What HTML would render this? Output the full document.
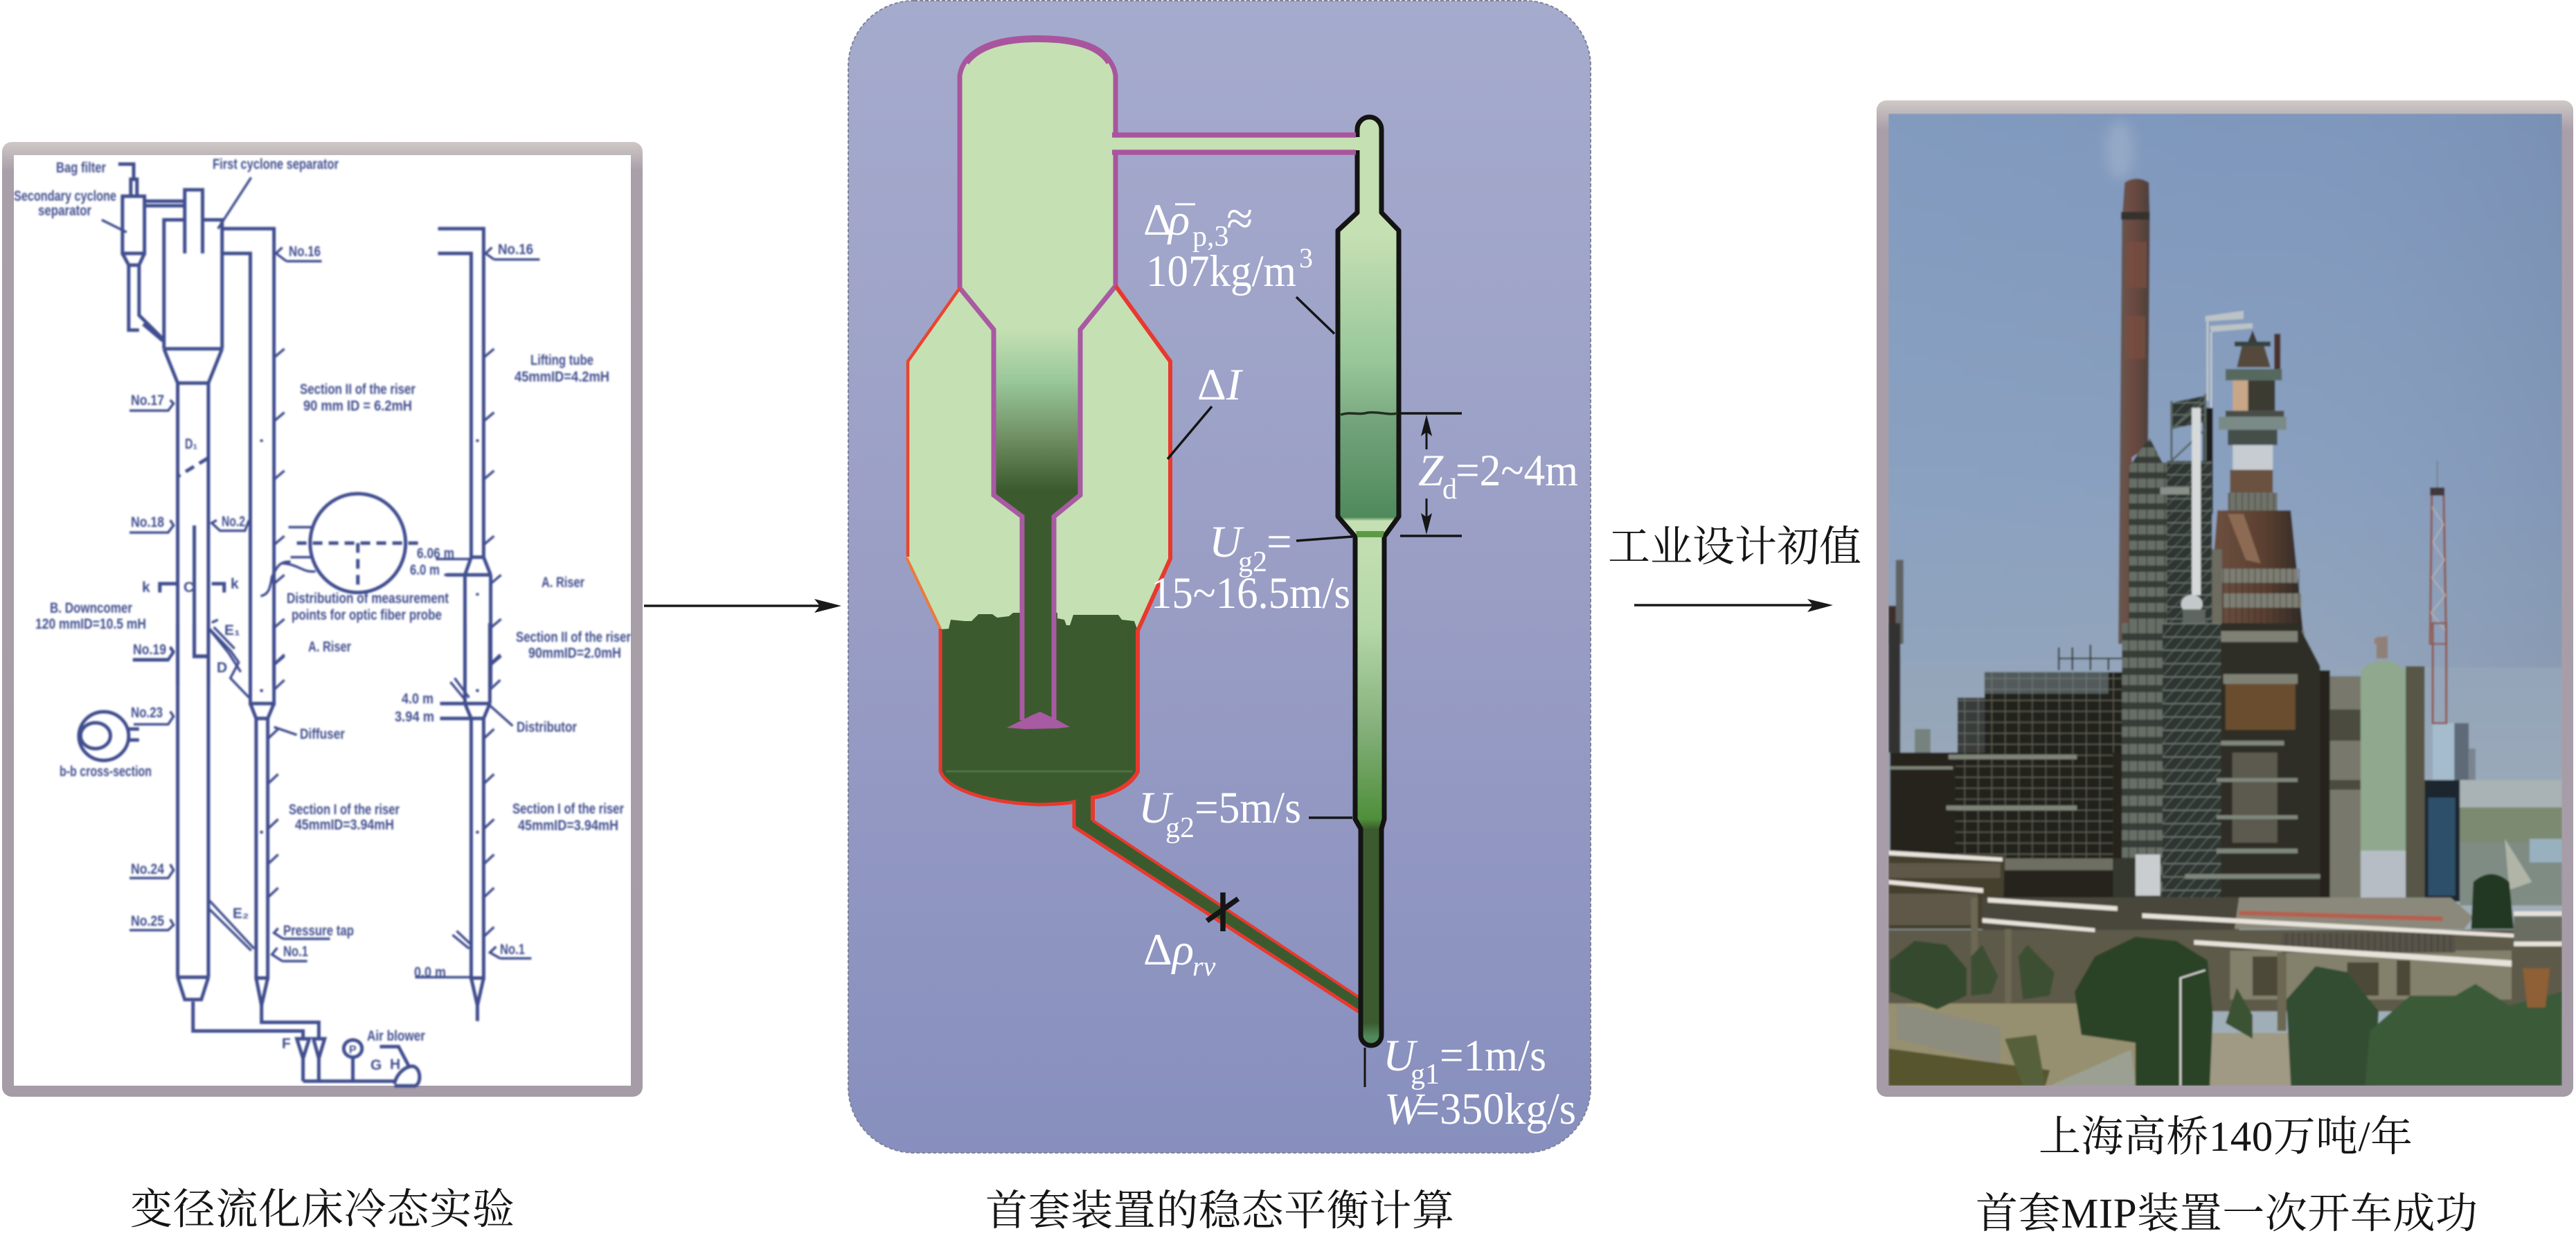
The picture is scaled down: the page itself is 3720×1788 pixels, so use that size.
<!DOCTYPE html>
<html><head><meta charset="utf-8">
<style>
html,body{margin:0;padding:0;background:#fff;width:3720px;height:1788px;overflow:hidden}
svg{display:block}
.n *{vector-effect:non-scaling-stroke}
.l{fill:none;stroke:#3f4e8e;stroke-width:5;stroke-linejoin:miter}
.s{fill:none;stroke:#3f4e8e;stroke-width:3.5}
.b text{font:bold 21px "Liberation Sans",sans-serif;fill:#3f4e8e;stroke:none}
.c{font-family:"Liberation Serif","Noto Serif CJK SC",serif;font-size:61px;fill:#151515}
.w text{font-family:"Liberation Serif",serif;font-size:65px;fill:#fff}
.i{font-style:italic}
</style></head><body>
<svg width="3720" height="1788" viewBox="0 0 3720 1788" xmlns="http://www.w3.org/2000/svg">
<defs>
<linearGradient id="pg" x1="0" y1="0" x2="0" y2="1"><stop offset="0" stop-color="#a5abcd"/><stop offset=".5" stop-color="#9a9ec5"/><stop offset="1" stop-color="#878fbe"/></linearGradient>
<linearGradient id="fg" x1="0" y1="0" x2="0" y2="1"><stop offset="0" stop-color="#cfc9c6"/><stop offset=".03" stop-color="#a99fa9"/><stop offset="1" stop-color="#a69ca8"/></linearGradient>
<linearGradient id="sp" gradientUnits="userSpaceOnUse" x1="0" y1="476" x2="0" y2="746"><stop offset="0" stop-color="#c5e0b3"/><stop offset=".28" stop-color="#98c79a"/><stop offset=".58" stop-color="#6f8f63"/><stop offset=".86" stop-color="#3b5b2f"/><stop offset="1" stop-color="#3b5b2f"/></linearGradient>
<linearGradient id="rs" gradientUnits="userSpaceOnUse" x1="0" y1="166" x2="0" y2="1511">
<stop offset="0" stop-color="#c5e0b3"/><stop offset=".13" stop-color="#c5e0b3"/><stop offset=".263" stop-color="#98c79a"/><stop offset=".318" stop-color="#7fae84"/><stop offset=".322" stop-color="#76a57e"/><stop offset=".432" stop-color="#4f8a5b"/><stop offset=".436" stop-color="#c5e0b3"/><stop offset=".55" stop-color="#b5d8a8"/><stop offset=".657" stop-color="#85b07c"/><stop offset=".756" stop-color="#4f8f3a"/><stop offset=".767" stop-color="#3b5b2f"/><stop offset=".975" stop-color="#3b5b2f"/><stop offset=".99" stop-color="#4f8a5b"/></linearGradient>
<linearGradient id="sky" x1="0" y1="0" x2="0" y2="1"><stop offset="0" stop-color="#7e97bc"/><stop offset=".38" stop-color="#8aa0bf"/><stop offset=".62" stop-color="#96a6b9"/><stop offset=".8" stop-color="#a0aeb8"/></linearGradient>
<linearGradient id="skr" x1="0" y1="0" x2="1" y2="0"><stop offset="0" stop-color="#8aa4c6" stop-opacity=".25"/><stop offset=".5" stop-color="#8aa4c6" stop-opacity="0"/><stop offset="1" stop-color="#66789a" stop-opacity=".22"/></linearGradient>
<linearGradient id="chim" x1="0" y1="0" x2="1" y2="0"><stop offset="0" stop-color="#66584f"/><stop offset=".45" stop-color="#6d4a40"/><stop offset="1" stop-color="#4c403b"/></linearGradient>
<linearGradient id="bod" x1="0" y1="0" x2="1" y2="0"><stop offset="0" stop-color="#6e5242"/><stop offset=".6" stop-color="#5a3f30"/><stop offset="1" stop-color="#2f2a26"/></linearGradient>
<filter id="bl" x="-2%" y="-2%" width="104%" height="104%"><feGaussianBlur stdDeviation="1.4"/></filter>
<filter id="bf" x="-2%" y="-2%" width="104%" height="104%"><feGaussianBlur stdDeviation="1.3"/></filter>
<filter id="sm" x="-50%" y="-50%" width="200%" height="200%"><feGaussianBlur stdDeviation="14"/></filter>
<clipPath id="pc"><rect x="2727" y="164" width="973" height="1404"/></clipPath>
<pattern id="gd" width="30" height="28" patternUnits="userSpaceOnUse"><rect width="30" height="28" fill="#22211c"/><rect x="0" y="0" width="2" height="28" fill="#5f5f55"/><rect y="0" width="30" height="2" fill="#6b6b5f"/></pattern>
<pattern id="gl" width="26" height="34" patternUnits="userSpaceOnUse"><rect width="26" height="34" fill="#2f3631"/><path d="M0 34L26 0" stroke="#6c7870" stroke-width="1.5"/><rect width="26" height="2.5" fill="#77837a"/></pattern>
<pattern id="bd" width="20" height="44" patternUnits="userSpaceOnUse"><rect width="20" height="44" fill="#666e66"/><rect y="26" width="20" height="18" fill="#383d38"/><rect x="14" width="2" height="44" fill="#33362f"/></pattern>
<pattern id="rl" width="14" height="60" patternUnits="userSpaceOnUse"><rect width="14" height="60" fill="none"/><rect width="2" height="60" fill="#2b2622" opacity=".55"/></pattern>
</defs>
<rect width="3720" height="1788" fill="#fff"/>

<!-- LEFT PANEL -->
<rect x="3" y="205" width="925" height="1379" rx="14" fill="url(#fg)"/>
<rect x="20" y="224" width="891" height="1344" fill="#fff"/>
<g filter="url(#bl)">
<g class="n" transform="translate(0,190) scale(.5995,.5102)">
<path class="l" d="M295 183H348V345H295ZM295 345L310 378H335L348 345M315 183V135H330V183M322 135V92H285M310 378V562H335M335 378V520L395 590M345 545L392 592M350 197H445M350 210H445M445 345V165H488V345"/>
<path class="l" d="M395 615V250H445M488 250H535V615M395 615H535M395 615L428 712H502L535 615M428 712V1568M502 712V1568"/>
<path class="l" d="M535 275H660V1568M535 345H603V1568"/>
<path class="l" d="M468 1115V1485H502M385 1305V1280H428M510 1280H540V1305"/>
<path class="l" d="M1055 275H1165V1205M1055 345H1135V1205M1135 1205H1165M1135 1205L1120 1255M1165 1205L1182 1255M1075 1255H1182M1120 1255V1568M1182 1255V1568"/>
<ellipse class="l" cx="862" cy="1165" rx="115" ry="140"/>
<path class="l" stroke-dasharray="14 9" d="M715 1165H1015M862 1165V1300M500 925L430 975"/>
<path class="s" d="M695 1120H750M700 1205H750M700 1218C670 1215 665 1240 655 1260C650 1300 645 1310 628 1315M680 1222C720 1225 730 1250 760 1245M605 130L525 275M245 250L305 285"/>
<path class="s" d="M660 640L685 615M660 820L685 795M660 985L685 960M660 1170L685 1145M660 1280L685 1255M660 1405L685 1380M660 1510L685 1485M1165 640L1190 615M1165 820L1190 795M1165 985L1190 960M1165 1170L1190 1145M1182 1280L1207 1255M1182 1405L1207 1380M1182 1510L1207 1485"/>
<path class="s" d="M690 367H775M690 367L665 345L680 328M1190 362H1300M1190 362L1170 345L1185 328M312 790H405L418 770L410 760M312 1135H405L418 1115L410 1100M522 1100L510 1108L530 1130H590L600 1100M320 1497H405L418 1475L410 1462M1070 1255H1120M1050 1210H1135"/>
<path class="s" d="M510 1390L525 1382M505 1410L550 1475L580 1530"/>
<circle cx="630" cy="875" r="4" fill="#3f4e8e"/><circle cx="1150" cy="875" r="4" fill="#3f4e8e"/><circle cx="1150" cy="1310" r="4" fill="#3f4e8e"/>
</g>
<g class="n" transform="translate(0,900) scale(.5995,.5663)">
<path class="l" d="M428 0V903M502 0V903M428 903H502M428 903L445 960H485L502 903M465 965V1040H730V1060"/>
<path class="l" d="M468 0V85H502M603 0V205H660V0M603 205L617 243H645L660 205M617 243V905H645V243M617 905L630 975L645 905M630 975V1018H768V1060"/>
<path class="l" d="M715 1060H745L730 1110ZM755 1060H782L768 1110ZM730 1110V1168M768 1110V1168M730 1168H950"/>
<circle class="l" cx="850" cy="1085" r="22"/><path class="l" d="M850 1107V1168M915 1080H960L985 1130M950 1175C955 1150 975 1130 995 1130C1015 1135 1015 1175 1000 1180H950"/>
<path class="l" d="M1120 0V205M1180 0V205M1060 205H1180M1120 205L1135 243M1180 205L1165 243M1060 243H1165M1135 243V905H1165V243M1135 905L1150 975L1165 905M1150 975V1015"/>
<path class="s" d="M505 15L555 70L575 100L555 140L600 190M515 10L565 65M505 708L612 830M505 730L605 835M1085 150L1120 195M1095 140L1130 190M1090 795L1130 830M1100 785L1135 820M660 265L715 285M1180 210L1235 262"/>
<path class="s" d="M660 105L685 80M660 170L685 145M1180 105L1205 80M1180 170L1205 145M645 295L670 270M645 410L670 385M645 525L670 500M645 615L670 590M645 700L670 675M1165 295L1190 270M1165 410L1190 385M1165 525L1190 500M1165 615L1190 590M1165 700L1190 675M1165 800L1190 775"/>
<path class="s" d="M320 92H405L418 72L410 60M322 258H405L418 238L410 225M312 650H405L418 630L410 615M312 783H405L418 770L410 755M682 805H795M682 805L660 790L670 778M680 862H740M680 862L655 845L668 828M1205 855H1280M1205 855L1180 840L1195 825M1000 903H1135"/>
<ellipse class="l" cx="250" cy="288" rx="60" ry="62"/><ellipse class="l" cx="230" cy="287" rx="36" ry="33"/><path class="l" d="M310 270H335M310 298H335"/>
<circle cx="630" cy="172" r="4" fill="#3f4e8e"/><circle cx="1150" cy="172" r="4" fill="#3f4e8e"/><circle cx="630" cy="533" r="4" fill="#3f4e8e"/><circle cx="1150" cy="533" r="4" fill="#3f4e8e"/>
</g>
<g class="b">
<text x="81" y="249" textLength="72" lengthAdjust="spacingAndGlyphs">Bag filter</text>
<text x="307" y="244" textLength="182" lengthAdjust="spacingAndGlyphs">First cyclone separator</text>
<text x="20" y="290" textLength="148" lengthAdjust="spacingAndGlyphs">Secondary cyclone</text>
<text x="55" y="311" textLength="77" lengthAdjust="spacingAndGlyphs">separator</text>
<text x="417" y="370" textLength="46" lengthAdjust="spacingAndGlyphs">No.16</text>
<text x="719" y="367" textLength="51" lengthAdjust="spacingAndGlyphs">No.16</text>
<text x="766" y="527" textLength="91" lengthAdjust="spacingAndGlyphs">Lifting tube</text>
<text x="743" y="551" textLength="137" lengthAdjust="spacingAndGlyphs">45mmID=4.2mH</text>
<text x="433" y="569" textLength="167" lengthAdjust="spacingAndGlyphs">Section II of the riser</text>
<text x="438" y="593" textLength="157" lengthAdjust="spacingAndGlyphs">90 mm ID = 6.2mH</text>
<text x="189" y="585" textLength="48" lengthAdjust="spacingAndGlyphs">No.17</text>
<text x="267" y="648" textLength="18" lengthAdjust="spacingAndGlyphs">D₁</text>
<text x="189" y="761" textLength="48" lengthAdjust="spacingAndGlyphs">No.18</text>
<text x="320" y="760" textLength="34" lengthAdjust="spacingAndGlyphs">No.2</text>
<text x="205" y="855">k</text><text x="333" y="850">k</text><text x="265" y="855">C</text>
<text x="602" y="806" textLength="54" lengthAdjust="spacingAndGlyphs">6.06 m</text>
<text x="592" y="830" textLength="43" lengthAdjust="spacingAndGlyphs">6.0 m</text>
<text x="782" y="848" textLength="62" lengthAdjust="spacingAndGlyphs">A. Riser</text>
<text x="414" y="871" textLength="234" lengthAdjust="spacingAndGlyphs">Distribution of measurement</text>
<text x="421" y="895" textLength="217" lengthAdjust="spacingAndGlyphs">points for optic fiber probe</text>
<text x="72" y="885" textLength="119" lengthAdjust="spacingAndGlyphs">B. Downcomer</text>
<text x="51" y="908" textLength="160" lengthAdjust="spacingAndGlyphs">120 mmID=10.5 mH</text>
<text x="745" y="927" textLength="166" lengthAdjust="spacingAndGlyphs">Section II of the riser</text>
<text x="763" y="950" textLength="134" lengthAdjust="spacingAndGlyphs">90mmID=2.0mH</text>
<text x="445" y="941" textLength="62" lengthAdjust="spacingAndGlyphs">A. Riser</text>
<text x="192" y="945" textLength="48" lengthAdjust="spacingAndGlyphs">No.19</text>
<text x="324" y="917">E₁</text><text x="313" y="971">D</text>
<text x="189" y="1036" textLength="46" lengthAdjust="spacingAndGlyphs">No.23</text>
<text x="433" y="1067" textLength="65" lengthAdjust="spacingAndGlyphs">Diffuser</text>
<text x="86" y="1121" textLength="133" lengthAdjust="spacingAndGlyphs">b-b cross-section</text>
<text x="580" y="1016" textLength="46" lengthAdjust="spacingAndGlyphs">4.0 m</text>
<text x="570" y="1042" textLength="57" lengthAdjust="spacingAndGlyphs">3.94 m</text>
<text x="746" y="1057" textLength="87" lengthAdjust="spacingAndGlyphs">Distributor</text>
<text x="417" y="1176" textLength="160" lengthAdjust="spacingAndGlyphs">Section I of the riser</text>
<text x="426" y="1198" textLength="143" lengthAdjust="spacingAndGlyphs">45mmID=3.94mH</text>
<text x="740" y="1175" textLength="161" lengthAdjust="spacingAndGlyphs">Section I of the riser</text>
<text x="748" y="1199" textLength="145" lengthAdjust="spacingAndGlyphs">45mmID=3.94mH</text>
<text x="189" y="1262" textLength="48" lengthAdjust="spacingAndGlyphs">No.24</text>
<text x="189" y="1337" textLength="48" lengthAdjust="spacingAndGlyphs">No.25</text>
<text x="409" y="1351" textLength="102" lengthAdjust="spacingAndGlyphs">Pressure tap</text>
<text x="409" y="1381" textLength="36" lengthAdjust="spacingAndGlyphs">No.1</text>
<text x="722" y="1378" textLength="36" lengthAdjust="spacingAndGlyphs">No.1</text>
<text x="336" y="1326">E₂</text>
<text x="598" y="1411" textLength="46" lengthAdjust="spacingAndGlyphs">0.0 m</text>
<text x="407" y="1514">F</text><text x="504" y="1521" style="font-size:16px">P</text>
<text x="530" y="1503" textLength="84" lengthAdjust="spacingAndGlyphs">Air blower</text>
<text x="535" y="1545">G</text><text x="563" y="1544">H</text>
</g>
</g>
<text class="c" x="188" y="1767" textLength="555">变径流化床冷态实验</text>

<!-- ARROWS -->
<path d="M930 875H1190" stroke="#1a1a1a" stroke-width="3.5" fill="none"/><path d="M1215 875L1176 865L1184 875L1176 885Z" fill="#1a1a1a"/>
<path d="M2360 874H2625" stroke="#1a1a1a" stroke-width="3.5" fill="none"/><path d="M2647 874L2610 865L2618 874L2610 884Z" fill="#1a1a1a"/>
<text class="c" x="2322" y="810" textLength="366">工业设计初值</text>

<!-- MIDDLE PANEL -->
<rect x="1225" y="1" width="1072" height="1664" rx="95" fill="url(#pg)" stroke="#7f8298" stroke-width="2" stroke-dasharray="5 3"/>
<path d="M1386 416V109C1392 70 1440 56 1498 56C1560 56 1605 70 1611 109V413L1690 522V807L1643 911V1114C1630 1145 1550 1162 1500 1162C1440 1160 1370 1145 1358 1114V908L1309 807V522Z" fill="#c5e0b3"/>
<path d="M1358 909L1370 908L1373 895L1393 897L1403 897L1413 887L1433 887L1440 892L1457 890L1463 885L1472 885H1527L1527 893L1537 895L1540 903L1545 903L1550 888L1615 888L1620 895L1638 897L1643 911V1114C1630 1145 1550 1162 1500 1162C1440 1160 1370 1145 1358 1114Z" fill="#3b5b2f"/>
<path d="M1366 1114H1636" stroke="#4d7244" stroke-width="3"/>
<path d="M1435 476H1560V715L1522 746V1040H1476V746L1435 715Z" fill="url(#sp)"/>
<path d="M1551 1150H1578V1185L1962 1440V1461L1551 1194Z" fill="#3b5b2f"/>
<path d="M1386 416V109C1392 70 1440 56 1498 56C1560 56 1605 70 1611 109V413" fill="none" stroke="#a9559e" stroke-width="7"/>
<path d="M1498 56C1440 56 1410 70 1395 90M1498 56C1560 56 1590 70 1602 90" fill="none" stroke="#a9559e" stroke-width="10"/>
<path d="M1386 416L1435 476V715L1476 746V1040M1611 413L1560 476V715L1522 746V1040" fill="none" stroke="#a85aa2" stroke-width="7"/>
<path d="M1454 1051L1480 1038L1490 1033L1502 1028L1517 1035L1527 1040L1545 1050L1527 1052L1480 1053Z" fill="#a85aa2"/>
<path d="M1386 416L1311 522V804" fill="none" stroke="#e8452f" stroke-width="4.5"/>
<path d="M1309 805L1358 908" fill="none" stroke="#ea7b3c" stroke-width="4"/>
<path d="M1358 908V1114C1370 1145 1440 1160 1500 1162C1510 1162 1540 1161 1551 1158V1194L1962 1461" fill="none" stroke="#e8392e" stroke-width="5"/>
<path d="M1578 1185V1152C1610 1147 1635 1132 1643 1114V911L1690 807V522L1611 413" fill="none" stroke="#e8392e" stroke-width="6"/>
<path d="M1578 1185L1962 1440" fill="none" stroke="#e8392e" stroke-width="4"/>
<path d="M1960 187A17.5 18 0 0 1 1995 187V307L2020 333V746L1999 775V1183L1995 1197V1495A15 15 0 0 1 1965 1495V1197L1957 1183V775L1932 746V333L1960 307Z" fill="url(#rs)" stroke="#141414" stroke-width="7" stroke-linejoin="round"/>
<path d="M1936 599C1950 594 1960 600 1975 596C1990 594 2005 600 2018 597" fill="none" stroke="#22301e" stroke-width="3.5"/>
<path d="M1958 767L1999 767L1997 776H1960Z" fill="#5c9b45"/>
<rect x="1606" y="198" width="358" height="19" fill="#c5e0b3"/>
<path d="M1606 195H1958M1606 220H1958" stroke="#a9559e" stroke-width="7.5" fill="none"/>
<g stroke="#151515" fill="none">
<path d="M1872 429L1927 482M1750 587L1686 663M2020 597H2111M2022 774H2111M1872 781L1953 775M1890 1181H1953" stroke-width="3.5"/>
<path d="M2060 612V649M2060 720V760" stroke-width="3"/>
<path d="M1971 1513V1570" stroke-width="3"/>
<path d="M1766 1289V1345M1743 1330L1788 1298" stroke-width="7.5"/>
</g>
<path d="M2060 599L2052 630L2060 624L2068 630ZM2060 772L2052 741L2060 747L2068 741Z" fill="#151515"/>
<g class="w">
<text x="1651" y="339">Δ</text><text class="i" x="1687" y="339">ρ</text>
<path d="M1697 295H1726" stroke="#fff" stroke-width="3"/>
<text x="1722" y="355" style="font-size:42px">p,3</text><text x="1771" y="339" style="font-size:70px">≈</text>
<text x="1655" y="413" textLength="217" lengthAdjust="spacingAndGlyphs">107kg/m</text><text x="1876" y="386" style="font-size:40px">3</text>
<text x="1729" y="577">Δ<tspan class="i">I</tspan></text>
<text class="i" x="2048" y="701">Z</text><text x="2083" y="720" style="font-size:42px">d</text><text x="2102" y="701" textLength="177" lengthAdjust="spacingAndGlyphs">=2~4m</text>
<text class="i" x="1746" y="804">U</text><text x="1788" y="825" style="font-size:42px">g2</text><text x="1829" y="804">=</text>
<text x="1662" y="878" textLength="288" lengthAdjust="spacingAndGlyphs">15~16.5m/s</text>
<text class="i" x="1644" y="1188">U</text><text x="1683" y="1209" style="font-size:42px">g2</text><text x="1725" y="1188" textLength="154" lengthAdjust="spacingAndGlyphs">=5m/s</text>
<text x="1651" y="1393">Δ<tspan class="i">ρ</tspan></text><text class="i" x="1722" y="1409" style="font-size:40px">rv</text>
<text class="i" x="1997" y="1546">U</text><text x="2037" y="1565" style="font-size:42px">g1</text><text x="2079" y="1546" textLength="154" lengthAdjust="spacingAndGlyphs">=1m/s</text>
<text class="i" x="1999" y="1623">W</text><text x="2044" y="1623" textLength="232" lengthAdjust="spacingAndGlyphs">=350kg/s</text>
</g>
<text class="c" x="1423" y="1769" textLength="677">首套装置的稳态平衡计算</text>

<!-- RIGHT PHOTO -->
<rect x="2710" y="145" width="1006" height="1439" rx="14" fill="url(#fg)"/>
<g clip-path="url(#pc)"><g filter="url(#bf)">
<rect x="2727" y="164" width="973" height="1404" fill="url(#sky)"/>
<rect x="2727" y="164" width="973" height="800" fill="url(#skr)"/>
<g transform="translate(2700,130) scale(.6505,.5102)">
<ellipse cx="555" cy="170" rx="32" ry="85" fill="#b4c1d2" opacity=".4" filter="url(#sm)"/>
<path d="M566 262Q592 240 620 262L622 370L618 1010L582 1040V1568H552L560 370Z" fill="url(#chim)"/>
<rect x="558" y="345" width="64" height="22" fill="#36322f"/>
<path d="M570 430H615V560H570ZM568 640H612V760H568Z" fill="#7a4e42" opacity=".7"/>
<!-- tower from top -->
<path d="M850 680L862 718H838Z" fill="#3e3a34"/>
<path d="M810 712H890V726H810Z" fill="#35433c"/>
<path d="M826 726H876L890 785H815Z" fill="#54483a"/>
<path d="M790 790H915V822H790Z" fill="#56695f"/>
<path d="M806 822H840V908H806Z" fill="#c8a688"/><path d="M840 822H900V908H840Z" fill="#3a3a32"/>
<path d="M790 908H920V925H790Z" fill="#4a4d46"/>
<path d="M775 925H925V962H775Z" fill="#7a8a86"/>
<path d="M795 962H905V1005H795Z" fill="#454f4a"/>
<path d="M806 1005H895V1075H806Z" fill="#c6ccd2"/>
<path d="M800 1075H895V1140H800Z" fill="#6a513f"/>
<path d="M795 1140H905V1190H795Z" fill="#70736b"/>
<rect x="795" y="1140" width="110" height="50" fill="url(#rl)"/>
<path d="M772 1190H935L965 1568H748Z" fill="url(#bod)"/>
<path d="M795 1200L835 1330L868 1340L830 1200Z" fill="#8d6a52"/>
<path d="M780 1355H950V1395H780ZM785 1425H958V1465H785ZM778 1530H965V1568H778Z" fill="#7d7e73"/>
<rect x="778" y="1355" width="185" height="213" fill="url(#rl)"/>
<path d="M745 640L830 625V648L745 655ZM755 668L850 660V675L758 685Z" fill="#bcc3c6"/>
<path d="M750 655V880M758 685V900" stroke="#c6ccce" stroke-width="4" fill="none"/>
<path d="M898 690H912V790H898Z" fill="#4a302a"/>
<path d="M740 900H762V1200H740Z" fill="#1b1c1c"/>
<!-- left column -->
<path d="M575 1070L600 1020L622 985L650 1055H665V1568H575Z" fill="url(#bd)"/>
<!-- lattice -->
<path d="M670 885L745 865V940L670 960ZM660 1050H760V1568H660Z" fill="url(#gl)"/>
<path d="M670 880V1050M745 860V1050M670 960L745 880M670 1050L745 960" stroke="#5a6660" stroke-width="5" fill="none"/>
<path d="M715 900H735V1430H715Z" fill="#d5d9da"/>
<ellipse cx="715" cy="1455" rx="24" ry="26" fill="#c3c9ca"/><path d="M695 1470H745V1568H695Z" fill="#5f6662"/>
<path d="M645 1125H710V1145H645Z" fill="#8a9089"/>
<path d="M760 1300H782V1568H760Z" fill="#6c6c60"/>
<path d="M1260 1050V1130" stroke="#75808f" stroke-width="3"/>
<path d="M1248 1130L1274 1130L1280 1568H1244Z" fill="none" stroke="#8f5a50" stroke-width="5"/>
<path d="M1248 1180L1274 1230L1250 1280L1276 1330L1248 1380L1278 1430L1246 1480L1278 1530" fill="none" stroke="#c2b3aa" stroke-width="2.5"/>
<path d="M1244 1125H1276V1148H1244Z" fill="#41383a"/>
<path d="M58 1330H75V1568H58Z" fill="#5f6262"/><path d="M42 1460H58V1568H42Z" fill="#3d2e2c"/>
<path d="M1120 1552L1150 1545V1568H1120Z" fill="#a08070"/>
</g>
<g transform="translate(2700,900) scale(.6505,.5663)">
<path d="M42 0H68V330H42Z" fill="#333330"/>
<path d="M100 270H135V330H100Z" fill="#76827e"/>
<path d="M1250 255H1298V400H1250Z" fill="#a4bccd"/><path d="M1298 255H1330V400H1298Z" fill="#5f6b78"/><path d="M1330 320H1345V400H1330Z" fill="#7a8590"/>
<path d="M1250 0H1280V255H1250Z" fill="none" stroke="#8f5a50" stroke-width="5"/>
<path d="M1310 400H1537V470H1310Z" fill="#a9b2b4"/><path d="M1310 470H1537V560H1310Z" fill="#7b8a72"/><path d="M1310 560H1537V720H1310Z" fill="#7f8c84"/>
<path d="M1410 550L1470 660L1420 680Z" fill="#b0b5a8"/><path d="M1465 550H1537V610H1465Z" fill="#99b0bf"/>
<path d="M420 62V120M450 62V120M490 55V120M530 90V120M420 90H570" stroke="#3a3a34" stroke-width="4" fill="none"/>
<path d="M255 125H570V340H255Z" fill="url(#gd)"/>
<path d="M255 125H530V180H255Z" fill="#7b8b92" opacity=".55"/>
<path d="M195 190H255V330H195Z" fill="url(#gd)" opacity=".8"/>
<path d="M45 330H570V700H45Z" fill="#26241f"/>
<path d="M190 330H540V600H190Z" fill="url(#gd)"/>
<path d="M175 335H460V347H175ZM170 465H460V477H170ZM45 365H185V373H45Z" fill="#7f8478"/>
<path d="M300 600H540V630H300Z" fill="#6e6e62"/>
<path d="M560 0H665V700H560Z" fill="url(#bd)"/>
<path d="M590 590H645V695H590Z" fill="#c9cdd0"/><path d="M540 600H590V700H540Z" fill="#34372f"/>
<path d="M650 0H790V700H650Z" fill="url(#gl)"/>
<path d="M780 0H950L1000 110V700H780Z" fill="#2f2e28"/>
<path d="M790 150H945V272H790Z" fill="#6a4e2e"/>
<path d="M780 20H950V48H780ZM785 130H950V155H785Z" fill="#7f8175"/>
<path d="M805 330H905V560H805Z" fill="#5c5a4f"/>
<path d="M780 300H920V312H780ZM770 395H950V405H770ZM770 490H950V500H770ZM770 575H950V587H770ZM700 640H1000V652H700Z" fill="#7f867c"/>
<path d="M1000 120H1022V700H1000Z" fill="#25241f"/>
<path d="M1022 135H1090V700H1022Z" fill="#78796c"/>
<path d="M1022 220H1090V300H1022ZM1022 400H1090V425H1022Z" fill="#4c4c40"/>
<path d="M1090 120Q1140 70 1190 120V580H1090Z" fill="#8fa88e"/>
<path d="M1090 580H1190V700H1090Z" fill="#b6bdc5"/>
<path d="M1125 35H1150V90H1125Z" fill="#8f8178"/>
<path d="M1190 110H1232V700H1190Z" fill="#595647"/>
<path d="M1232 400H1310V710H1232Z" fill="#1c272e"/><path d="M1240 445H1300V695H1240Z" fill="#2f506a"/>
<path d="M42 590H300L295 780H42Z" fill="#45412f"/><path d="M42 612H290V650H42ZM42 690H240V770H42Z" fill="#5e5849"/>
<path d="M250 700H820V800H250Z" fill="#4a463a"/>
<path d="M820 700H1290L1340 750L1320 780H810Z" fill="#8b897b"/>
<path d="M820 733L1272 748V760L820 745Z" fill="#b5604f"/>
<path d="M1340 660Q1380 620 1420 660L1430 780H1335Z" fill="#233720"/>
<path d="M42 782H1537V990H42Z" fill="#5d5a4a"/>
<path d="M800 835H1425V960H800Z" fill="#83806c"/>
<path d="M850 850H910V950H850ZM1060 865H1130V950H1060ZM1170 860H1200V950H1170Z" fill="#4d4939"/>
<path d="M915 790H1300V840H915Z" fill="#57534a"/>
<rect x="915" y="790" width="385" height="48" fill="url(#rl)"/>
<path d="M1430 748H1537V812H1430Z" fill="#6b6d62"/>
<path d="M42 580L295 598V608L42 592ZM42 655L252 676V688L42 666Z" fill="#e8e4dc"/>
<path d="M262 700L550 722V734L262 712ZM250 752L500 778V788L250 764ZM605 740L955 762L1430 792V802L955 774L605 752ZM720 808L1425 860V876L720 820ZM1430 735H1537V746H1430ZM1430 812H1537V824H1430Z" fill="#e7e2da"/>
<path d="M905 840H925V1040H905ZM225 700H240V930H225ZM300 780H315V970H300Z" fill="#6c6752"/>
<path d="M42 970H600V1180H42Z" fill="#96906f"/>
<path d="M750 1045H960V1180H750Z" fill="#a09a84"/>
<path d="M60 970L290 1030V1125L60 1060Z" fill="#8c8c7f"/>
<path d="M42 1085L400 1140L390 1180H42Z" fill="#57542f"/>
<path d="M400 1180L580 1088L590 1180Z" fill="#9ca093"/>
<path d="M45 860L100 810L170 820L215 880L215 950L150 985L90 960L45 940Z" fill="#344a2d"/>
<path d="M225 850L250 820L285 900L270 945L225 950ZM330 850L350 820L410 890L400 950L340 960Z" fill="#3e5033"/>
<path d="M470 1050L455 940L500 850L590 800L680 810L750 860L762 1000L755 1180H590V1070Z" fill="#2a4327"/>
<path d="M790 1020L815 930L850 1000L850 1060Z" fill="#3a5233"/>
<path d="M935 1180L925 960L990 875L1060 890L1130 990L1120 1180Z" fill="#334d30"/>
<path d="M1100 1180L1110 1040L1200 950L1300 950L1345 920L1420 975L1537 940V1180Z" fill="#3a5a39"/>
<path d="M1450 880H1510L1500 980H1460Z" fill="#8f5e34"/>
<path d="M690 1180V905L745 885" fill="none" stroke="#dcdcd6" stroke-width="4"/>
<path d="M300 1060L340 1180H390L370 1050Z" fill="#56603b"/>
</g>
</g></g>
<text class="c" x="2944" y="1662" textLength="540">上海高桥140万吨/年</text>
<text class="c" x="2853" y="1773" textLength="725">首套MIP装置一次开车成功</text>
</svg>
</body></html>
